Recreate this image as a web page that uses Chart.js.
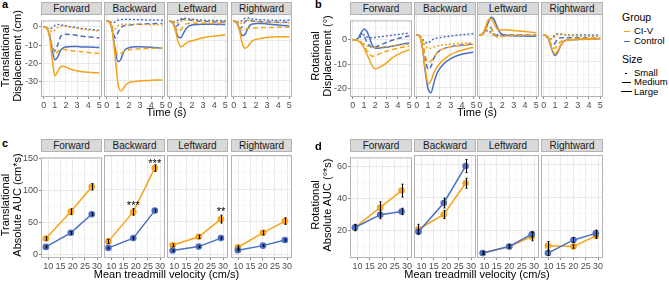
<!DOCTYPE html>
<html>
<head>
<meta charset="utf-8">
<script src="https://cdn.jsdelivr.net/npm/chart.js@4.4.0/dist/chart.umd.min.js"></script>
<style>
  body { margin: 0; background: #fff; }
  #fig { position: relative; width: 669px; height: 281px; overflow: hidden; font-family: "Liberation Sans", Arial, sans-serif; }
  #fig canvas { position: absolute; }
  .strip { position: absolute; background: #d9d9d9; border: 1px solid #b3b3b3; box-sizing: border-box;
           font-size: 10px; color: #1a1a1a; text-align: center; line-height: 11px; }
  .txt { position: absolute; white-space: nowrap; color: #000; }
  .rot { position: absolute; white-space: nowrap; text-align: center; font-size: 11px; line-height: 12px;
         transform: translate(-50%, -50%) rotate(-90deg); }
  .key { position: absolute; height: 0; }
</style>
</head>
<body>
<div id="fig"></div>
<script>
// time points (s) for the displacement curves
const timeS = [0, 0.25, 0.5, 0.75, 1, 1.25, 1.5, 1.75, 2, 2.5, 3, 3.5, 4, 4.5, 5];
const directions = ['Forward', 'Backward', 'Leftward', 'Rightward'];

// a: translational displacement (cm)
const tFwdCivS = [0, -0.3, -1.5, -2.5, -2, -0.5, 0.3, 0.5, 0.3, -0.3, -0.8, -1.3, -1.7, -2, -2.3];
const tFwdCivM = [0, -0.5, -3.5, -10, -14.8, -13.5, -12.5, -12.3, -12.5, -13, -13.3, -13.7, -14, -14.3, -14.5];
const tFwdCivL = [0, -0.7, -5, -17, -26.8, -24.5, -22, -21.5, -22, -23.3, -24, -24.5, -24.8, -25, -25.2];
const tFwdCtlS = [0, -0.3, -1.2, -0.5, 0.8, 1.3, 1.2, 0.8, 0.5, 0, -0.5, -1, -1.3, -1.6, -2];
const tFwdCtlM = [0, -0.5, -4, -10.5, -13, -10, -5.5, -4.2, -4, -4.3, -4.7, -5.2, -5.5, -5.8, -6];
const tFwdCtlL = [0, -0.7, -4, -12, -18, -16.5, -13, -11.5, -11, -10.8, -10.8, -11, -11, -11.2, -11.3];

const tBwdCivS = [0, -0.5, -2.5, -4, -2.5, -1.8, -1.6, -1.6, -1.6, -1.7, -1.8, -1.8, -1.9, -1.9, -2];
const tBwdCivM = [0, -0.5, -5, -13.5, -17, -16.5, -15.5, -15, -14.5, -14.2, -14, -13.9, -13.8, -13.7, -13.6];
const tBwdCivL = [0, -0.7, -5, -18, -31, -35.3, -34, -32, -31, -30.5, -30.2, -30, -29.9, -29.8, -29.7];
const tBwdCtlS = [0, -0.2, -1, -0.5, 0.3, 0.7, 0.8, 0.8, 0.8, 0.7, 0.6, 0.5, 0.5, 0.5, 0.4];
const tBwdCtlM = [0, -0.5, -4, -8.5, -6, -3.5, -2.5, -2.2, -2, -1.8, -1.6, -1.5, -1.4, -1.3, -1.2];
const tBwdCtlL = [0, -0.7, -5, -14, -20.5, -19.5, -16, -14, -13.5, -13, -13, -13.1, -13.3, -13.5, -13.7];

const tLftCivS = [0, -0.5, -1.2, -0.8, 0, 0.4, 0.5, 0.4, 0.2, 0, -0.2, -0.3, -0.4, -0.4, -0.5];
const tLftCivM = [0, -0.5, -3, -5.2, -4.5, -2.5, -1.5, -1.2, -1.1, -1.1, -1.2, -1.2, -1.3, -1.3, -1.3];
const tLftCivL = [0, -0.7, -4.5, -10.5, -13, -12.3, -11, -10.3, -10, -9.2, -8.5, -8, -7.6, -7.3, -7];
const tLftCtlS = [0, -0.3, -0.5, 0.3, 1, 1.4, 1.3, 1.1, 0.9, 0.6, 0.4, 0.3, 0.2, 0.2, 0.1];
const tLftCtlM = [0, -1, -2.8, -2, 0.2, 0.8, 0.7, 0.5, 0.3, 0, -0.2, -0.3, -0.4, -0.5, -0.5];
const tLftCtlL = [0, -0.7, -4, -8, -8.5, -6, -3.8, -2.5, -2, -1.8, -1.7, -1.7, -1.7, -1.8, -1.8];

const tRgtCivS = [0, -0.5, -1.5, -1, 0, 0.3, 0, -0.3, -0.5, -0.7, -0.8, -0.8, -0.8, -0.9, -0.9];
const tRgtCivM = [0, -0.5, -3, -4.5, -4.3, -3.8, -3.5, -3.5, -3.5, -3.4, -3.3, -3.3, -3.2, -3.2, -3.2];
const tRgtCivL = [0, -0.7, -4.5, -11, -13.7, -13, -11, -9.8, -9.3, -8.7, -8.3, -8.1, -8, -8, -7.9];
const tRgtCtlS = [0, -0.3, -0.8, 0.3, 1.3, 1.5, 1.3, 1, 0.8, 0.6, 0.5, 0.4, 0.4, 0.3, 0.3];
const tRgtCtlM = [0, -1, -3.5, -3, -0.5, 0.5, 0.3, 0, -0.2, -0.4, -0.5, -0.5, -0.6, -0.6, -0.6];
const tRgtCtlL = [0, -0.7, -4, -7.3, -7, -4, -2, -1.5, -1.3, -1.3, -1.5, -1.8, -2, -2.3, -2.5];

// b: rotational displacement (deg)
const rFwdCivS = [0, 0, -0.3, -1, -1.8, -2.5, -3, -3.2, -3.2, -3, -2.8, -2.5, -2.3, -2, -1.8];
const rFwdCivM = [0, 0, -0.3, -1, -2.5, -4.5, -6, -6.8, -6.5, -5.5, -4.7, -4, -3.5, -3, -2.5];
const rFwdCivL = [0, 0, -0.5, -1.5, -3.5, -6, -8.5, -11, -12, -11, -9.5, -7.5, -6, -5, -4];
const rFwdCtlS = [0, 0, 0.5, 1.5, 2, 1.2, 0.8, 0.8, 1, 1.3, 1.6, 1.9, 2.2, 2.5, 2.8];
const rFwdCtlM = [0, 0, 0.8, 2.5, 1.5, -1, -2.5, -3.2, -3, -2, -1, -0.2, 0.5, 1.1, 1.6];
const rFwdCtlL = [0, 0, 0.8, 3, 4.5, 3.5, 0.5, -2.5, -3.5, -3.3, -3, -2.6, -2.2, -1.7, -1.3];

const rBwdCivS = [0, -0.3, -2, -4, -5, -5, -4.6, -4.3, -4, -3.7, -3.5, -3.3, -3.1, -3, -2.9];
const rBwdCivM = [0, -0.3, -3, -8, -10.3, -10, -8.5, -7, -6, -5, -4.5, -4.2, -4, -3.8, -3.5];
const rBwdCivL = [0, -0.5, -5, -13, -18.5, -17.5, -14.5, -12.5, -11, -9, -7.5, -6.5, -5.8, -5.2, -4.7];
const rBwdCtlS = [0, -0.3, -1.5, -2.8, -3, -2.2, -1.5, -1.2, -1, -0.7, -0.4, -0.1, 0.1, 0.3, 0.5];
const rBwdCtlM = [0, -0.3, -3, -9, -13, -12, -9, -7, -6, -5, -4.5, -4, -3.8, -3.6, -3.4];
const rBwdCtlL = [0, -0.5, -5, -14, -20.5, -22, -18.5, -15, -13, -10.5, -9, -8, -7.3, -6.9, -6.6];

const rLftCivS = [0, 0.3, 1.2, 1.5, 0.5, -0.3, -0.5, -0.4, -0.3, -0.2, -0.1, -0.1, 0, 0, 0];
const rLftCivM = [0, 0.3, 2, 3.5, 3, 0.5, -0.8, -0.8, -0.5, -0.3, -0.2, -0.2, -0.1, -0.1, -0.1];
const rLftCivL = [0, 0.5, 3, 5.8, 6.2, 4.5, 2.5, 2, 2, 1.9, 1.7, 1.5, 1.3, 1.1, 0.9];
const rLftCtlS = [0, 0.5, 1.5, 1.8, 1, 0.3, 0.1, 0, 0, 0, 0, 0, 0, 0, 0];
const rLftCtlM = [0, 0.5, 2.5, 3.8, 2.5, 0.5, -0.3, -0.3, -0.2, -0.1, 0, 0, 0, 0, 0];
const rLftCtlL = [0, 0.3, 2, 4.8, 6.8, 6, 3.5, 1.2, 0.2, -0.2, -0.3, -0.4, -0.4, -0.5, -0.5];

const rRgtCivS = [0, -0.3, -1.2, -1.5, -0.5, 0.3, 0.5, 0.3, 0, -0.3, -0.5, -0.5, -0.6, -0.6, -0.6];
const rRgtCivM = [0, -0.5, -2, -4.5, -5, -3.5, -2.5, -2, -2, -1.8, -1.8, -1.7, -1.7, -1.6, -1.6];
const rRgtCivL = [0, -0.5, -2.2, -5.5, -7.2, -6, -3.8, -2.5, -2, -1.8, -1.6, -1.5, -1.4, -1.3, -1.3];
const rRgtCtlS = [0, -0.3, -1.5, -1, 0, 0.5, 0.3, 0.2, 0.1, 0, 0, 0, 0, 0, 0];
const rRgtCtlM = [0, -0.5, -2.5, -4, -3, -1.5, -1, -1, -1, -1, -1.1, -1.1, -1.2, -1.2, -1.2];
const rRgtCtlL = [0, -0.5, -2.5, -6, -7.8, -6.5, -4, -2.5, -2, -1.8, -1.7, -1.6, -1.5, -1.5, -1.4];

// mean treadmill velocity (cm/s) per direction
const velFwd = [9, 19.2, 27.8];
const velBwd = [8.8, 19, 27.8];
const velLft = [9.3, 20, 29.1];
const velRgt = [9.8, 20.1, 29.1];

// c: translational absolute AUC (cm*s), mean and error
const cFwdCiv = [25, 67, 106],  cFwdCivErr = [2.5, 4.5, 5];
const cFwdCtl = [12, 34, 63],   cFwdCtlErr = [1.5, 2, 2];
const cBwdCiv = [20, 65, 132],  cBwdCivErr = [3, 5, 5];
const cBwdCtl = [10, 25, 67],   cBwdCtlErr = [1, 1.5, 2];
const cLftCiv = [14, 27, 54],   cLftCivErr = [2, 2.5, 6];
const cLftCtl = [6, 12, 25],    cLftCtlErr = [1, 1, 1.5];
const cRgtCiv = [11, 33, 51],   cRgtCivErr = [2, 3, 5];
const cRgtCtl = [6.5, 13.5, 22], cRgtCtlErr = [1, 1, 1.5];

// d: rotational absolute AUC (deg*s)
const dFwdCiv = [22, 34.5, 45],   dFwdCivErr = [2, 3.5, 4];
const dFwdCtl = [22, 30, 32],     dFwdCtlErr = [1.5, 2.5, 2];
const dBwdCiv = [20.5, 29.5, 48.5], dBwdCivErr = [3, 2.5, 3];
const dBwdCtl = [19, 36.5, 59],   dBwdCtlErr = [1, 3, 4];
const dLftCiv = [6, 10, 16],      dLftCivErr = [0.8, 0.8, 2.5];
const dLftCtl = [6, 10, 17.5],    dLftCtlErr = [0.5, 0.8, 1.5];
const dRgtCiv = [10.5, 10, 16.5], dRgtCivErr = [2.5, 1, 1.5];
const dRgtCtl = [6, 14, 18],      dRgtCtlErr = [1.5, 1.5, 2];

// significance marks in panel c
const sigBwd = [{ x: 19, y: 78, text: '***' }, { x: 27.8, y: 143, text: '***' }];
const sigLft = [{ x: 29.1, y: 70, text: '**' }];

// tick values
const timeTicks = [0, 1, 2, 3, 4, 5];
const velTicks = [10, 15, 20, 25, 30];
const aTicks = [-30, -20, -10, 0];
const bTicks = [-20, -10, 0];
const cTicks = [0, 50, 100, 150];
const dTicks = [20, 40, 60];

const orange = '#F5A31A';
const blue = '#4A6FC4';
const dashes = { S: [0.8, 3.2], M: [5, 3], L: [] };
const fontFam = '"Liberation Sans", Arial, sans-serif';

const fig = document.getElementById('fig');

function midpoints(arr) {
    const out = [];
    for (let i = 0; i < arr.length - 1; i++) out.push((arr[i] + arr[i + 1]) / 2);
    return out;
}

function axisOpts(range, majors, extraMinors, showLabels, fit) {
    const all = majors.concat(midpoints(majors), extraMinors).sort((a, b) => a - b);
    const isMajor = c => c.tick && majors.includes(c.tick.value);
    return {
        type: 'linear',
        min: range[0],
        max: range[1],
        afterBuildTicks: s => { s.ticks = all.map(v => ({ value: v })); },
        afterFit: fit,
        border: { display: false },
        grid: {
            color: c => isMajor(c) ? '#e4e4e4' : '#f2f2f2',
            lineWidth: c => isMajor(c) ? 0.8 : 0.6,
            drawTicks: showLabels,
            tickLength: 2,
            tickWidth: 1,
            tickColor: c => isMajor(c) ? '#8c8c8c' : 'rgba(0,0,0,0)'
        },
        ticks: {
            display: showLabels,
            autoSkip: false,
            maxRotation: 0,
            padding: 1,
            color: '#4d4d4d',
            font: { family: fontFam, size: 9 },
            callback: v => majors.includes(v) ? String(v) : ''
        }
    };
}

// frame around each facet
const panelFrame = {
    id: 'panelFrame',
    afterDraw(chart) {
        const a = chart.chartArea;
        const ctx = chart.ctx;
        ctx.save();
        ctx.strokeStyle = '#b3b3b3';
        ctx.lineWidth = 1;
        ctx.strokeRect(a.left + 0.5, a.top + 0.5, a.right - a.left - 1, a.bottom - a.top - 1);
        ctx.restore();
    }
};

// vertical error bars from dataset.errors
const errorBars = {
    id: 'errorBars',
    afterDatasetsDraw(chart) {
        const ctx = chart.ctx;
        const x = chart.scales.x, y = chart.scales.y;
        ctx.save();
        ctx.strokeStyle = '#000';
        ctx.lineWidth = 1;
        chart.data.datasets.forEach(ds => {
            if (!ds.errors) return;
            ds.data.forEach((p, i) => {
                const px = Math.round(x.getPixelForValue(p.x)) + 0.5;
                const top = y.getPixelForValue(p.y + ds.errors[i]);
                const bot = y.getPixelForValue(p.y - ds.errors[i]);
                ctx.beginPath();
                ctx.moveTo(px, top); ctx.lineTo(px, bot);
                ctx.moveTo(px - 1, top); ctx.lineTo(px + 1, top);
                ctx.moveTo(px - 1, bot); ctx.lineTo(px + 1, bot);
                ctx.stroke();
            });
        });
        ctx.restore();
    }
};

// significance stars
const sigMarks = {
    id: 'sigMarks',
    afterDatasetsDraw(chart, args, opts) {
        if (!opts.marks) return;
        const ctx = chart.ctx;
        ctx.save();
        ctx.fillStyle = '#000';
        ctx.font = '11px ' + fontFam;
        ctx.textAlign = 'center';
        ctx.textBaseline = 'alphabetic';
        opts.marks.forEach(m => {
            ctx.fillText(m.text, chart.scales.x.getPixelForValue(m.x), chart.scales.y.getPixelForValue(m.y) + 6);
        });
        ctx.restore();
    }
};

function makePanel(p) {
    const padL = p.showY ? 30 : 6, padR = 6, padB = 14;
    const cv = document.createElement('canvas');
    cv.width = p.w + padL + padR;
    cv.height = p.h + padB;
    cv.style.left = (p.left - padL) + 'px';
    cv.style.top = p.top + 'px';
    fig.appendChild(cv);

    const strip = document.createElement('div');
    strip.className = 'strip';
    strip.style.left = p.left + 'px';
    strip.style.top = (p.top - 12) + 'px';
    strip.style.width = p.w + 'px';
    strip.style.height = '13px';
    strip.textContent = p.title;
    fig.appendChild(strip);

    return new Chart(cv, {
        type: 'line',
        data: { datasets: p.datasets },
        plugins: [panelFrame, errorBars, sigMarks],
        options: {
            responsive: false,
            animation: false,
            layout: { padding: { left: 0, right: padR, top: 0, bottom: 0 } },
            plugins: {
                legend: { display: false },
                tooltip: { enabled: false },
                sigMarks: { marks: p.marks || null }
            },
            scales: {
                x: axisOpts(p.xRange, p.xTicks, [], true, s => { s.height = padB; }),
                y: axisOpts(p.yRange, p.yTicks, p.yExtra || [], p.showY, s => { s.width = padL; })
            }
        }
    });
}

function curve(vals, color, size) {
    return {
        data: timeS.map((t, i) => ({ x: t, y: vals[i] })),
        borderColor: color,
        borderWidth: 1.5,
        borderDash: dashes[size],
        borderCapStyle: size === 'S' ? 'round' : 'butt',
        pointRadius: 0,
        cubicInterpolationMode: 'monotone',
        fill: false
    };
}

function aucLine(vel, vals, errs, color) {
    return {
        data: vel.map((v, i) => ({ x: v, y: vals[i] })),
        errors: errs,
        borderColor: color,
        borderWidth: 1.5,
        pointRadius: 3.3,
        pointBackgroundColor: color,
        pointBorderWidth: 0,
        fill: false
    };
}

const transCurves = [
    [tFwdCivS, tFwdCivM, tFwdCivL, tFwdCtlS, tFwdCtlM, tFwdCtlL],
    [tBwdCivS, tBwdCivM, tBwdCivL, tBwdCtlS, tBwdCtlM, tBwdCtlL],
    [tLftCivS, tLftCivM, tLftCivL, tLftCtlS, tLftCtlM, tLftCtlL],
    [tRgtCivS, tRgtCivM, tRgtCivL, tRgtCtlS, tRgtCtlM, tRgtCtlL]
];
const rotCurves = [
    [rFwdCivS, rFwdCivM, rFwdCivL, rFwdCtlS, rFwdCtlM, rFwdCtlL],
    [rBwdCivS, rBwdCivM, rBwdCivL, rBwdCtlS, rBwdCtlM, rBwdCtlL],
    [rLftCivS, rLftCivM, rLftCivL, rLftCtlS, rLftCtlM, rLftCtlL],
    [rRgtCivS, rRgtCivM, rRgtCivL, rRgtCtlS, rRgtCtlM, rRgtCtlL]
];
const vels = [velFwd, velBwd, velLft, velRgt];
const transAuc = [
    [cFwdCiv, cFwdCivErr, cFwdCtl, cFwdCtlErr],
    [cBwdCiv, cBwdCivErr, cBwdCtl, cBwdCtlErr],
    [cLftCiv, cLftCivErr, cLftCtl, cLftCtlErr],
    [cRgtCiv, cRgtCivErr, cRgtCtl, cRgtCtlErr]
];
const rotAuc = [
    [dFwdCiv, dFwdCivErr, dFwdCtl, dFwdCtlErr],
    [dBwdCiv, dBwdCivErr, dBwdCtl, dBwdCtlErr],
    [dLftCiv, dLftCivErr, dLftCtl, dLftCtlErr],
    [dRgtCiv, dRgtCivErr, dRgtCtl, dRgtCtlErr]
];
const sigMarksC = [null, sigBwd, sigLft, null];

function curveSets(c) {
    return [
        curve(c[0], orange, 'S'), curve(c[1], orange, 'M'), curve(c[2], orange, 'L'),
        curve(c[3], blue, 'S'), curve(c[4], blue, 'M'), curve(c[5], blue, 'L')
    ];
}

const leftCols = [41, 104, 167, 231];
const rightCols = [350, 414, 477, 541];

directions.forEach((dir, i) => {
    makePanel({ title: dir, left: leftCols[i], top: 14, w: 61, h: 83, showY: i === 0,
        xRange: [-0.25, 5.25], xTicks: timeTicks, yRange: [-38.3, 3.5], yTicks: aTicks, yExtra: [-35],
        datasets: curveSets(transCurves[i]) });
    makePanel({ title: dir, left: rightCols[i], top: 14, w: 62, h: 83, showY: i === 0,
        xRange: [-0.25, 5.25], xTicks: timeTicks, yRange: [-23.6, 8], yTicks: bTicks, yExtra: [5],
        datasets: curveSets(rotCurves[i]) });
    makePanel({ title: dir, left: leftCols[i], top: 151, w: 61, h: 107, showY: i === 0,
        xRange: [7, 32], xTicks: velTicks, yRange: [-5.4, 152], yTicks: cTicks,
        marks: sigMarksC[i],
        datasets: [aucLine(vels[i], transAuc[i][2], transAuc[i][3], blue),
                   aucLine(vels[i], transAuc[i][0], transAuc[i][1], orange)] });
    makePanel({ title: dir, left: rightCols[i], top: 151, w: 62, h: 107, showY: i === 0,
        xRange: [7, 32], xTicks: velTicks, yRange: [3, 65.7], yTicks: dTicks, yExtra: [10],
        datasets: [aucLine(vels[i], rotAuc[i][2], rotAuc[i][3], blue),
                   aucLine(vels[i], rotAuc[i][0], rotAuc[i][1], orange)] });
});

// text labels
function addText(txt, left, cy, size, extra) {
    const d = document.createElement('div');
    d.className = 'txt';
    d.style.left = left + 'px';
    d.style.top = (cy - size * 0.6) + 'px';
    d.style.fontSize = size + 'px';
    d.style.lineHeight = (size * 1.2) + 'px';
    if (extra) Object.assign(d.style, extra);
    d.textContent = txt;
    fig.appendChild(d);
    return d;
}
function addCentered(txt, cx, cy, size) {
    const d = addText(txt, cx, cy, size);
    d.style.transform = 'translateX(-50%)';
}
function addRotated(lines, cx, cy) {
    const d = document.createElement('div');
    d.className = 'rot';
    d.style.left = cx + 'px';
    d.style.top = cy + 'px';
    d.innerHTML = lines.join('<br>');
    fig.appendChild(d);
}
function addKey(left, width, y, style) {
    const k = document.createElement('div');
    k.className = 'key';
    k.style.left = left + 'px';
    k.style.top = y + 'px';
    k.style.width = width + 'px';
    k.style.borderTop = style;
    fig.appendChild(k);
}

addText('a', 2, 5, 11, { fontWeight: 'bold' });
addText('b', 315, 5, 11, { fontWeight: 'bold' });
addText('c', 2, 144, 11, { fontWeight: 'bold' });
addText('d', 315, 147, 11, { fontWeight: 'bold' });

addRotated(['Translational', 'Displacement (cm)'], 11, 55.5);
addRotated(['Rotational', 'Displacement (\u00b0)'], 321, 55.5);
addRotated(['Translational', 'Absolute AUC (cm*s)'], 11, 204.5);
addRotated(['Rotational', 'Absolute AUC (\u00b0*s)'], 321, 204.5);

addCentered('Time (s)', 166.5, 113, 11);
addCentered('Time (s)', 477, 113, 11);
addCentered('Mean treadmill velocity (cm/s)', 166.5, 275, 11);
addCentered('Mean treadmill velocity (cm/s)', 477, 275, 11);

// legend
addText('Group', 622, 17, 10.5);
addKey(624, 6, 30.5, '1.5px solid ' + orange);
addText('CI-V', 634, 31, 9.5);
addKey(624, 6, 40.5, '1.5px solid ' + blue);
addText('Control', 634, 41, 9.5);
addText('Size', 622, 59, 10.5);
addKey(625, 2, 72.5, '1.5px solid #000');
addText('Small', 634, 73, 9.5);
addKey(622, 9, 81.5, '1.5px solid #000');
addText('Medium', 634, 82, 9.5);
addKey(621, 11, 91, '1.5px solid #000');
addText('Large', 634, 92, 9.5);
</script>
</body>
</html>
